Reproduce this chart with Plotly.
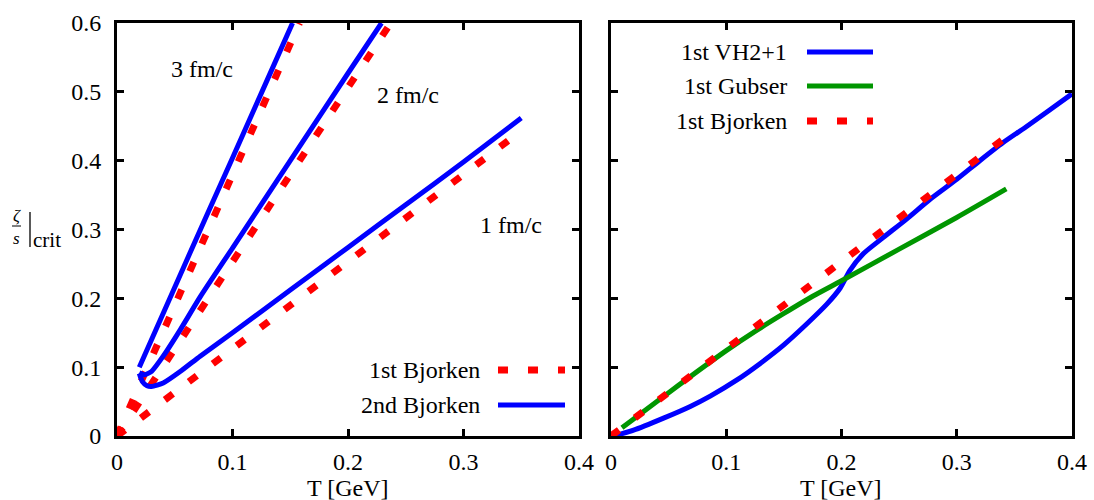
import plotly.graph_objects as go

W, H = 1094, 500

# ---------------- data (left panel) ----------------
# 1st order Bjorken (red dotted), three proper times
T_b1_1fm = [0.0, 0.345]
Z_b1_1fm = [0.0, 0.437]
T_b1_2fm = [0.0, 0.237]
Z_b1_2fm = [0.0, 0.600]
T_b1_3fm = [0.0, 0.158]
Z_b1_3fm = [0.0, 0.600]

# 2nd order Bjorken (blue solid)
T_b2_1fm = [0.0193, 0.022, 0.026, 0.030, 0.040, 0.055, 0.072, 0.100, 0.150, 0.200, 0.250, 0.300, 0.350]
Z_b2_1fm = [0.091, 0.079, 0.073, 0.072, 0.077, 0.094, 0.116, 0.150, 0.212, 0.274, 0.336, 0.398, 0.462]
T_b2_2fm = [0.0193, 0.024, 0.030, 0.040, 0.055, 0.072, 0.100, 0.150, 0.200, 0.229]
Z_b2_2fm = [0.092, 0.089, 0.094, 0.116, 0.155, 0.202, 0.273, 0.400, 0.527, 0.600]
T_b2_3fm = [0.0193, 0.060, 0.100, 0.130, 0.152]
Z_b2_3fm = [0.100, 0.254, 0.404, 0.517, 0.600]

# ---------------- data (right panel) ----------------
T_vh = [0.0023, 0.0196, 0.0456, 0.0688, 0.0861, 0.1093, 0.1295, 0.1497, 0.170, 0.1873,
        0.1989, 0.2075, 0.2191, 0.2364, 0.2567, 0.2769, 0.300, 0.320, 0.340, 0.360, 0.380, 0.400]
Z_vh = [0.000, 0.0085, 0.026, 0.043, 0.058, 0.0815, 0.1055, 0.132, 0.163, 0.1915,
        0.215, 0.241, 0.265, 0.2885, 0.3155, 0.344, 0.373, 0.400, 0.426, 0.449, 0.473, 0.497]
T_gub = [0.0095, 0.050, 0.100, 0.125, 0.150, 0.175, 0.200, 0.250, 0.300, 0.343]
Z_gub = [0.012, 0.063, 0.124, 0.152, 0.178, 0.203, 0.2255, 0.2715, 0.3175, 0.359]
T_bj = [0.0, 0.345]
Z_bj = [0.0, 0.437]

x_ticks = [0, 0.1, 0.2, 0.3, 0.4]
x_ticktext = ["0", "0.1", "0.2", "0.3", "0.4"]
y_ticks = [0, 0.1, 0.2, 0.3, 0.4, 0.5, 0.6]
y_ticktext = ["0", "0.1", "0.2", "0.3", "0.4", "0.5", "0.6"]

BLUE = "#0000ff"
RED = "#ff0000"
GREEN = "#009600"
FONT = "Liberation Serif"
RED_DASH = "10px,20px"


def px(x):
    return x / W


def py(y):
    return 1 - y / H


fig = go.Figure()

# left panel: red first, blue on top
for T, Z in [(T_b1_1fm, Z_b1_1fm), (T_b1_2fm, Z_b1_2fm), (T_b1_3fm, Z_b1_3fm)]:
    fig.add_trace(go.Scatter(x=T, y=Z, mode="lines", xaxis="x", yaxis="y",
                             line=dict(color=RED, width=7, dash=RED_DASH), showlegend=False))
for T, Z in [(T_b2_1fm, Z_b2_1fm), (T_b2_2fm, Z_b2_2fm), (T_b2_3fm, Z_b2_3fm)]:
    fig.add_trace(go.Scatter(x=T, y=Z, mode="lines", xaxis="x", yaxis="y",
                             line=dict(color=BLUE, width=5, shape="spline", smoothing=0.5),
                             showlegend=False))

# right panel
fig.add_trace(go.Scatter(x=T_vh, y=Z_vh, mode="lines", xaxis="x2", yaxis="y2",
                         line=dict(color=BLUE, width=5, shape="spline", smoothing=0.7),
                         showlegend=False))
fig.add_trace(go.Scatter(x=T_gub, y=Z_gub, mode="lines", xaxis="x2", yaxis="y2",
                         line=dict(color=GREEN, width=5, shape="spline", smoothing=0.7),
                         showlegend=False))
fig.add_trace(go.Scatter(x=T_bj, y=Z_bj, mode="lines", xaxis="x2", yaxis="y2",
                         line=dict(color=RED, width=7, dash=RED_DASH), showlegend=False))

ax_common = dict(showline=True, linewidth=3, linecolor="black", mirror="ticks",
                 ticks="inside", ticklen=7, tickwidth=2.5, tickcolor="black",
                 showgrid=False, zeroline=False, automargin=False,
                 tickfont=dict(family=FONT, size=24, color="black"))

y_dom = [py(436), py(23)]
fig.update_layout(
    template="none",
    width=W, height=H, autosize=False,
    margin=dict(l=0, r=0, t=0, b=0, pad=0),
    paper_bgcolor="white", plot_bgcolor="white",
    font=dict(family=FONT, size=24, color="black"),
    showlegend=False,
    xaxis=dict(domain=[px(117), px(579)], range=[0, 0.4], anchor="y",
               tickvals=x_ticks, ticktext=x_ticktext, ticklabelstandoff=2, **ax_common),
    yaxis=dict(domain=y_dom, range=[0, 0.6], anchor="x",
               tickvals=y_ticks, ticktext=y_ticktext, ticklabelstandoff=8, **ax_common),
    xaxis2=dict(domain=[px(611), px(1072)], range=[0, 0.4], anchor="y2",
                tickvals=x_ticks, ticktext=x_ticktext, ticklabelstandoff=2, **ax_common),
    yaxis2=dict(domain=y_dom, range=[0, 0.6], anchor="x2",
                tickvals=y_ticks, ticktext=y_ticktext, showticklabels=False, **ax_common),
)

annotations = []


def txt(x, y, s, size=24, xanchor="center", yanchor="middle"):
    annotations.append(dict(x=px(x), y=py(y), xref="paper", yref="paper", text=s,
                            showarrow=False, xanchor=xanchor, yanchor=yanchor,
                            font=dict(family=FONT, size=size, color="black")))


# axis titles
txt(348, 488, "T [GeV]")
txt(841, 488, "T [GeV]")
# y title: zeta/s |crit
txt(16.5, 216, "<i>ζ</i>", size=17)
txt(16.5, 238, "<i>s</i>", size=17)
txt(47, 240, "crit", size=21)

# curve labels
txt(202, 69, "3 fm/c")
txt(408, 95, "2 fm/c")
txt(511, 225, "1 fm/c")

# legends (text right aligned, sample to the right)
txt(482, 370, "1st Bjorken", xanchor="right")
txt(482, 405, "2nd Bjorken", xanchor="right")
txt(789, 52, "1st VH2+1", xanchor="right")
txt(789, 86, "1st Gubser", xanchor="right")
txt(789, 121, "1st Bjorken", xanchor="right")

fig.update_layout(annotations=annotations)

shapes = [
    # fraction bar & evaluation bar of y title
    dict(type="line", xref="paper", yref="paper", x0=px(12), x1=px(21), y0=py(226), y1=py(226),
         line=dict(color="black", width=1)),
    dict(type="line", xref="paper", yref="paper", x0=px(30), x1=px(30), y0=py(212), y1=py(247),
         line=dict(color="black", width=1.3)),
    # legend samples
    dict(type="line", xref="paper", yref="paper", x0=px(498), x1=px(565), y0=py(370), y1=py(370),
         line=dict(color=RED, width=7, dash=RED_DASH)),
    dict(type="line", xref="paper", yref="paper", x0=px(498), x1=px(565), y0=py(405), y1=py(405),
         line=dict(color=BLUE, width=5)),
    dict(type="line", xref="paper", yref="paper", x0=px(807), x1=px(873), y0=py(52), y1=py(52),
         line=dict(color=BLUE, width=5)),
    dict(type="line", xref="paper", yref="paper", x0=px(807), x1=px(873), y0=py(86), y1=py(86),
         line=dict(color=GREEN, width=5)),
    dict(type="line", xref="paper", yref="paper", x0=px(807), x1=px(873), y0=py(121), y1=py(121),
         line=dict(color=RED, width=7, dash=RED_DASH)),
]
fig.update_layout(shapes=shapes)

fig.write_html(
    "out.html",
    config={"displayModeBar": False},
    post_script="document.body.style.margin='0';document.body.style.padding='0';"
                "document.body.style.overflow='hidden';",
)
